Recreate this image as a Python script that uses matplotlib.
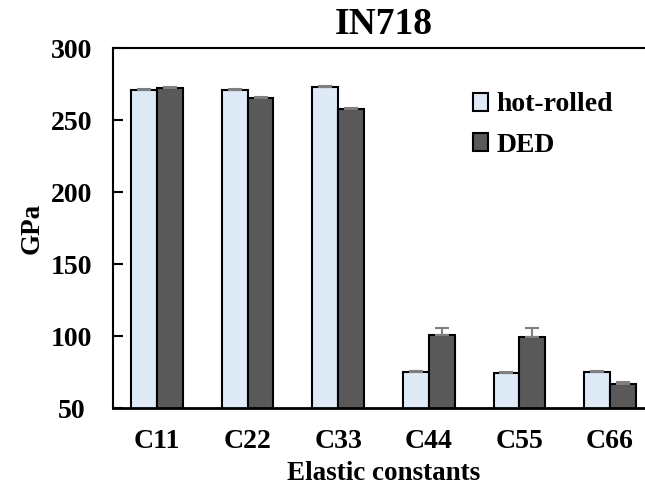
import numpy as np
import matplotlib.pyplot as plt

constants = ['C11', 'C22', 'C33', 'C44', 'C55', 'C66']
hot_rolled = [271.0, 271.0, 272.8, 75.0, 74.6, 75.0]
hot_rolled_err = [0.6, 0.6, 0.6, 0.5, 0.5, 0.5]
ded = [272.3, 265.5, 257.8, 100.5, 99.5, 66.8]
ded_err = [0.6, 0.6, 0.6, 4.8, 6.0, 1.2]

plt.rcParams['font.family'] = ['Liberation Serif', 'DejaVu Serif']
plt.rcParams['font.weight'] = 'bold'

fig = plt.figure(figsize=(6.45, 4.92), dpi=100)
ax = fig.add_axes([113 / 645, 84 / 492, 541 / 645, 360 / 492])

x = np.arange(len(constants))
w = 0.285
err_kw = dict(ecolor='#7f7f7f', elinewidth=1.5, capsize=5, capthick=1.5)
ax.bar(x - w / 2, hot_rolled, w, yerr=[np.zeros(6), hot_rolled_err],
       color='#deebf7', edgecolor='black', linewidth=1.5,
       error_kw=err_kw, label='hot-rolled')
ax.bar(x + w / 2, ded, w, yerr=[np.zeros(6), ded_err],
       color='#595959', edgecolor='black', linewidth=1.5,
       error_kw=err_kw, label='DED')

ax.set_ylim(50, 300)
ax.set_xlim(-0.486, 5.486)
ax.set_yticks([50, 100, 150, 200, 250, 300])
ax.set_xticks(x)
ax.set_xticklabels(constants)
ax.tick_params(axis='x', length=0, pad=15, labelsize=20)
ax.tick_params(axis='y', direction='in', length=7, width=1.5, pad=30, labelsize=20)
for lab in ax.get_yticklabels():
    lab.set_horizontalalignment('center')
for s in ax.spines.values():
    s.set_linewidth(1.5)
ax.spines['bottom'].set_linewidth(2)

ax.set_title('IN718', fontsize=27, fontweight='bold', pad=10)
ax.set_xlabel('Elastic constants', fontsize=19.5, fontweight='bold', labelpad=5)
ax.set_ylabel('GPa', fontsize=19.5, fontweight='bold', labelpad=4)

ax.legend(loc='upper left', bbox_to_anchor=(0.64, 0.915), frameon=False,
          fontsize=20, handlelength=0.55, handleheight=0.6, handletextpad=0.3,
          labelspacing=0.55, borderpad=0)

fig.savefig('out.png', dpi=100)
